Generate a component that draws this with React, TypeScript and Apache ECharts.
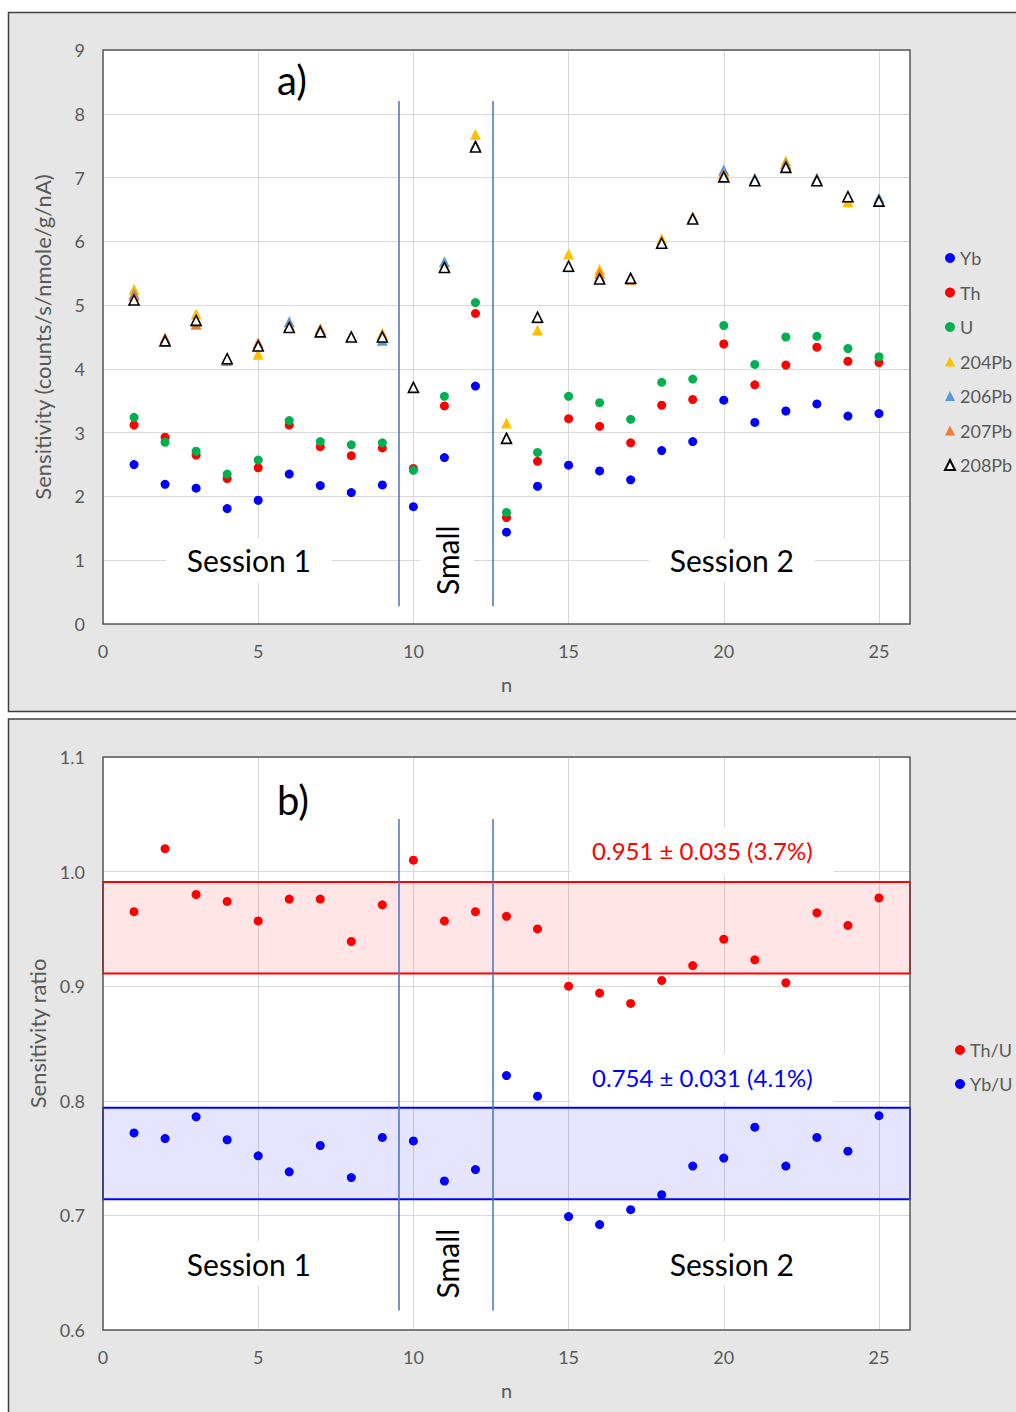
import React, { useEffect, useRef } from "react";
import * as echarts from "echarts";

// ---------- data ----------
const nValues = [1, 2, 3, 4, 5, 6, 7, 8, 9, 10, 11, 12, 13, 14, 15, 16, 17, 18, 19, 20, 21, 22, 23, 24, 25];

const ybSens = [2.50, 2.19, 2.13, 1.81, 1.94, 2.35, 2.17, 2.06, 2.18, 1.84, 2.61, 3.73, 1.44, 2.16, 2.49, 2.40, 2.26, 2.72, 2.86, 3.51, 3.16, 3.34, 3.45, 3.26, 3.30];
const thSens = [3.12, 2.93, 2.65, 2.28, 2.45, 3.12, 2.78, 2.64, 2.76, 2.44, 3.42, 4.87, 1.67, 2.55, 3.22, 3.10, 2.84, 3.43, 3.52, 4.39, 3.75, 4.06, 4.34, 4.12, 4.10];
const uSens = [3.24, 2.85, 2.71, 2.35, 2.57, 3.19, 2.86, 2.81, 2.84, 2.41, 3.57, 5.04, 1.75, 2.69, 3.57, 3.47, 3.21, 3.79, 3.84, 4.68, 4.07, 4.50, 4.51, 4.32, 4.19];
const pb204 = [5.25, 4.46, 4.86, 4.15, 4.23, 4.68, 4.62, 4.51, 4.56, 3.71, 5.62, 7.68, 3.15, 4.61, 5.80, 5.56, 5.40, 6.04, 6.37, 7.10, 6.97, 7.26, 6.98, 6.62, 6.64];
const pb206 = [5.18, 4.46, 4.75, 4.13, 4.38, 4.74, 4.61, 4.51, 4.45, 3.71, 5.68, 7.52, 2.93, 4.80, 5.60, 5.45, 5.42, 5.98, 6.38, 7.12, 6.99, 7.22, 6.99, 6.70, 6.68];
const pb207 = [5.15, 4.49, 4.70, 4.16, 4.41, 4.68, 4.63, 4.51, 4.54, 3.71, 5.60, 7.50, 2.93, 4.80, 5.62, 5.50, 5.40, 6.00, 6.38, 7.06, 6.96, 7.21, 6.97, 6.70, 6.64];
const pb208 = [5.08, 4.44, 4.76, 4.16, 4.36, 4.65, 4.58, 4.50, 4.50, 3.71, 5.59, 7.48, 2.91, 4.81, 5.61, 5.41, 5.42, 5.97, 6.35, 7.01, 6.95, 7.16, 6.95, 6.70, 6.63];

const thURatio = [0.965, 1.020, 0.980, 0.974, 0.957, 0.976, 0.976, 0.939, 0.971, 1.010, 0.957, 0.965, 0.961, 0.950, 0.900, 0.894, 0.885, 0.905, 0.918, 0.941, 0.923, 0.903, 0.964, 0.953, 0.977];
const ybURatio = [0.772, 0.767, 0.786, 0.766, 0.752, 0.738, 0.761, 0.733, 0.768, 0.765, 0.730, 0.740, 0.822, 0.804, 0.699, 0.692, 0.705, 0.718, 0.743, 0.750, 0.777, 0.743, 0.768, 0.756, 0.787];

const xRange = [0, 26];
const xInterval = 5;
const topYRange = [0, 9];
const topYInterval = 1;
const bottomYRange = [0.6, 1.1];
const bottomYInterval = 0.1;

const sessionSeparators = [9.53, 12.56];
const separatorSpanTop = [0.28, 8.2];
const separatorSpanBottom = [0.617, 1.046];

const bandThU = [0.911, 0.991];
const bandYbU = [0.714, 0.794];
const bandThULabel = "0.951 ± 0.035 (3.7%)";
const bandYbULabel = "0.754 ± 0.031 (4.1%)";

const topLegend = ["Yb", "Th", "U", "204Pb", "206Pb", "207Pb", "208Pb"];
const bottomLegend = ["Th/U", "Yb/U"];

const topNotes = [
  { text: "a)", at: [6.09, 8.53], size: 40, color: "#000", bg: false, rotate: false },
  { text: "Session 1", at: [4.7, 1.0], size: 30, color: "#000", bg: true, rotate: false },
  { text: "Small", at: [11.08, 1.0], size: 30, color: "#000", bg: true, rotate: true },
  { text: "Session 2", at: [20.26, 1.0], size: 30, color: "#000", bg: true, rotate: false },
];
const bottomNotes = [
  { text: "b)", at: [6.12, 1.0625], size: 40, color: "#000", bg: false, rotate: false },
  { text: "Session 1", at: [4.7, 0.658], size: 30, color: "#000", bg: true, rotate: false },
  { text: "Small", at: [11.08, 0.658], size: 30, color: "#000", bg: true, rotate: true },
  { text: "Session 2", at: [20.26, 0.658], size: 30, color: "#000", bg: true, rotate: false },
  { text: bandThULabel, at: [19.31, 1.018], size: 24, color: "#ff0000", bg: true, rotate: false },
  { text: bandYbULabel, at: [19.31, 0.82], size: 24, color: "#0000ff", bg: true, rotate: false },
];

// ---------- styling ----------
const FONT = "Lato, 'Open Sans', sans-serif";
const GRAY = "#595959";
const GRID_TOP = { left: 103, top: 50, width: 807, height: 574 };
const GRID_BOTTOM = { left: 103, top: 757, width: 807, height: 573 };

const pts = (ys: number[]) => nValues.map((n, i) => [n, ys[i]]);

export default function App() {
  const ref = useRef<HTMLDivElement>(null);

  useEffect(() => {
    if (!ref.current) return;
    const chart = echarts.init(ref.current, null, { renderer: "svg" });

    const xAxis = (gridIndex: number) => ({
      type: "value",
      gridIndex,
      min: xRange[0],
      max: xRange[1],
      interval: xInterval,
      name: "n",
      nameLocation: "middle",
      nameGap: 50,
      nameTextStyle: { color: GRAY, fontSize: 20, fontFamily: FONT },
      axisLine: { show: false },
      axisTick: { show: false },
      axisLabel: {
        color: GRAY,
        fontSize: 18,
        fontFamily: FONT,
        margin: 18,
        formatter: (v: number) => (v % 5 === 0 ? String(v) : ""),
      },
      splitLine: { show: true, lineStyle: { color: "#d9d9d9", width: 1 } },
    });

    const yAxis = (gridIndex: number, range: number[], interval: number, name: string, gap: number, dec: number, pad: number[]) => ({
      type: "value",
      gridIndex,
      min: range[0],
      max: range[1],
      interval,
      name,
      nameLocation: "middle",
      nameGap: gap,
      nameTextStyle: { color: GRAY, fontSize: 22, fontFamily: FONT, padding: pad },
      axisLine: { show: false },
      axisTick: { show: false },
      axisLabel: {
        color: GRAY,
        fontSize: 18,
        fontFamily: FONT,
        margin: 18,
        formatter: (v: number) => v.toFixed(dec),
      },
      splitLine: { show: true, lineStyle: { color: "#d9d9d9", width: 1 } },
    });

    const circle = (name: string, data: number[], color: string, xi: number) => ({
      type: "scatter",
      name,
      xAxisIndex: xi,
      yAxisIndex: xi,
      symbol: "circle",
      symbolSize: 9,
      itemStyle: { color, opacity: 1 },
      data: pts(data),
      z: 4,
    });
    const tri = (name: string, data: number[], color: string) => ({
      type: "scatter",
      name,
      xAxisIndex: 0,
      yAxisIndex: 0,
      symbol: "triangle",
      symbolSize: 11,
      itemStyle: { color, opacity: 1 },
      data: pts(data),
      z: 4,
    });

    const separators = (xi: number, span: number[]) => ({
      type: "line",
      xAxisIndex: xi,
      yAxisIndex: xi,
      data: [],
      z: 3,
      silent: true,
      markLine: {
        silent: true,
        symbol: ["none", "none"],
        label: { show: false },
        lineStyle: { color: "#4472c4", width: 1.5, type: "solid" },
        data: sessionSeparators.map((s) => [{ coord: [s, span[0]] }, { coord: [s, span[1]] }]),
      },
    });

    const band = (range: number[], fill: string, stroke: string) => ({
      type: "line",
      xAxisIndex: 1,
      yAxisIndex: 1,
      data: [],
      z: 1,
      silent: true,
      markArea: {
        silent: true,
        itemStyle: { color: fill, borderColor: stroke, borderWidth: 2 },
        data: [[{ coord: [xRange[0], range[0]] }, { coord: [xRange[1], range[1]] }]],
      },
    });

    const legendBase = {
      orient: "vertical",
      itemWidth: 10,
      itemHeight: 10,
      padding: 0,
      textStyle: { color: GRAY, fontSize: 18, fontFamily: FONT, lineHeight: 20 },
      selectedMode: false,
    };

    chart.setOption({
      animation: false,
      backgroundColor: "#ffffff",
      textStyle: { fontFamily: FONT },
      grid: [
        { ...GRID_TOP, show: true, backgroundColor: "#ffffff", borderWidth: 0 },
        { ...GRID_BOTTOM, show: true, backgroundColor: "#ffffff", borderWidth: 0 },
      ],
      xAxis: [xAxis(0), xAxis(1)],
      yAxis: [
        yAxis(0, topYRange, topYInterval, "Sensitivity (counts/s/nmole/g/nA)", 50, 0, [0, 0, 0, 0]),
        yAxis(1, bottomYRange, bottomYInterval, "Sensitivity ratio", 54, 1, [0, 0, 0, 20]),
      ],
      legend: [
        { ...legendBase, data: topLegend, left: 944, top: 248, itemGap: 14.5 },
        { ...legendBase, data: bottomLegend, left: 955, top: 1040, itemGap: 14 },
      ],
      series: [
        separators(0, separatorSpanTop),
        circle("Yb", ybSens, "#0000ff", 0),
        circle("Th", thSens, "#ff0000", 0),
        circle("U", uSens, "#00b050", 0),
        tri("204Pb", pb204, "#ffc000"),
        tri("206Pb", pb206, "#5b9bd5"),
        tri("207Pb", pb207, "#ed7d31"),
        {
          type: "scatter",
          name: "208Pb",
          xAxisIndex: 0,
          yAxisIndex: 0,
          symbol: "triangle",
          symbolSize: 10,
          itemStyle: { color: "#ffffff", borderColor: "#000000", borderWidth: 1.6, opacity: 1 },
          data: pts(pb208),
          z: 5,
        },
        band(bandThU, "rgba(255,0,0,0.1)", "#ff0000"),
        band(bandYbU, "rgba(0,0,255,0.1)", "#0000ff"),
        separators(1, separatorSpanBottom),
        circle("Th/U", thURatio, "#ff0000", 1),
        circle("Yb/U", ybURatio, "#0000ff", 1),
      ],
    });

    const makeNotes = (notes: typeof topNotes, gridIndex: number) =>
      notes.map((n) => {
        const p = chart.convertToPixel({ gridIndex } as any, n.at) as number[];
        const style: any = {
          text: n.text,
          fill: n.color,
          font: `${n.size}px ${FONT}`,
          align: "center",
          verticalAlign: "middle",
        };
        if (n.bg) {
          style.backgroundColor = "#ffffff";
          style.padding = n.rotate ? [12, 8] : n.size === 24 ? [12, 21] : [7, 21];
        }
        return {
          type: "text",
          x: p[0],
          y: p[1],
          rotation: n.rotate ? Math.PI / 2 : 0,
          z: 2,
          silent: true,
          style,
        };
      });

    const frame = (g: typeof GRID_TOP) => ({
      type: "rect",
      z: 6,
      silent: true,
      shape: { x: g.left, y: g.top, width: g.width, height: g.height },
      style: { fill: "none", stroke: "#595959", lineWidth: 1.5 },
    });

    chart.setOption({
      graphic: [
        {
          type: "rect",
          z: -10,
          silent: true,
          shape: { x: 8.5, y: 12.5, width: 1030, height: 699 },
          style: { fill: "#e6e6e6", stroke: "#404040", lineWidth: 1.5 },
        },
        {
          type: "rect",
          z: -10,
          silent: true,
          shape: { x: 8.5, y: 719, width: 1030, height: 720 },
          style: { fill: "#e6e6e6", stroke: "#404040", lineWidth: 1.5 },
        },
        frame(GRID_TOP),
        frame(GRID_BOTTOM),
        ...makeNotes(topNotes, 0),
        ...makeNotes(bottomNotes, 1),
      ],
    });

    return () => chart.dispose();
  }, []);

  return <div ref={ref} style={{ position: "absolute", left: 0, top: 0, width: 1016, height: 1412 }} />;
}
